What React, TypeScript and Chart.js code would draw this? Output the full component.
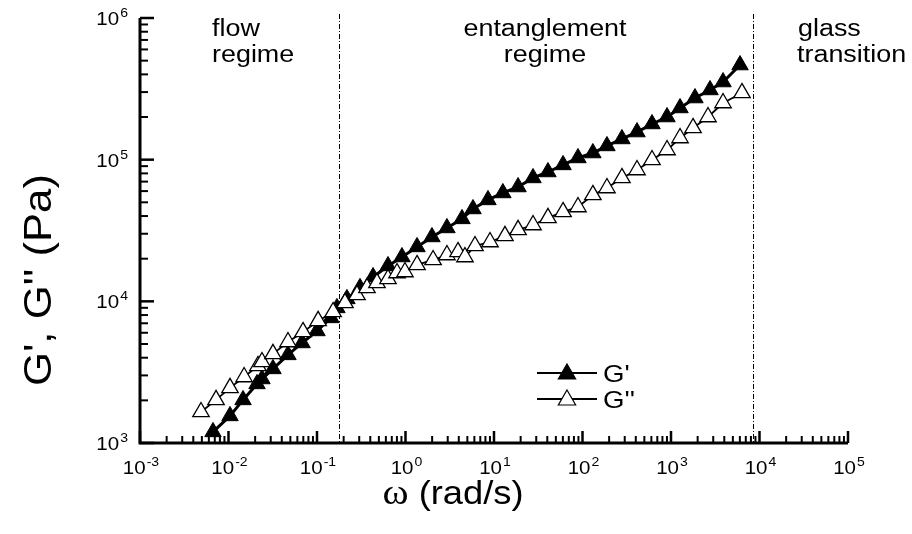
import React, { useEffect, useRef } from 'react';
import { Chart, registerables } from 'chart.js';

Chart.register(...registerables);

// ---------------- data ----------------
const gPrimeOmega = [0.00668, 0.0104, 0.0146, 0.021, 0.0239, 0.0318, 0.047, 0.0678, 0.1, 0.144, 0.168, 0.218, 0.306, 0.43, 0.634, 0.912, 1.35, 1.99, 2.94, 4.35, 5.79, 8.55, 12.6, 18.7, 27.6, 40.7, 60.3, 88.9, 131, 189, 279, 413, 610, 902, 1265, 1866, 2760, 3873, 6026];
const gPrime = [1197, 1553, 2014, 2612, 2831, 3334, 4188, 5082, 6180, 7638, 8985, 10400, 12450, 14860, 17780, 20560, 24210, 28460, 32960, 38190, 44870, 51990, 58210, 64120, 74300, 81850, 91830, 102800, 111400, 125000, 140000, 156700, 178600, 200000, 231700, 272300, 310500, 353200, 465600];

const gDoublePrimeOmega = [0.00489, 0.00723, 0.0104, 0.015, 0.0215, 0.0239, 0.0318, 0.047, 0.0695, 0.103, 0.152, 0.207, 0.283, 0.367, 0.476, 0.634, 0.802, 0.986, 1.35, 2.05, 2.94, 3.92, 4.7, 6.1, 9.01, 13.3, 18.7, 27.6, 40.7, 60.3, 88.9, 131, 189, 279, 413, 610, 902, 1265, 1774, 2618, 3873, 6339];
const gDoublePrime = [1656, 2014, 2449, 2924, 3499, 3733, 4256, 5164, 6081, 7278, 8414, 9750, 11090, 12450, 13490, 14390, 15850, 16110, 18070, 19590, 21240, 22320, 20560, 24600, 26240, 28960, 31920, 34590, 38810, 42760, 46340, 56360, 63100, 74300, 84550, 99540, 117000, 142200, 167500, 200000, 251200, 295800];

const seriesNames = ["G'", "G''"];
const xTickExponents = ['-3', '-2', '-1', '0', '1', '2', '3', '4', '5'];
const yTickExponents = ['3', '4', '5', '6'];
const regimeBoundaries = [0.177, 8450];
const regimeLabels = [['flow', 'regime'], ['entanglement', 'regime'], ['glass', 'transition']];
const xTitleSymbol = 'ω';
const xTitleText = ' (rad/s)';
const yTitle = "G', G'' (Pa)";

const X_MIN = 1e-3, X_MAX = 1e5, Y_MIN = 1e3, Y_MAX = 1e6;

const SANS = '"Liberation Sans", Arial, sans-serif';
const SERIF = '"Liberation Serif", "Times New Roman", serif';

function stretchedText(ctx: CanvasRenderingContext2D, text: string, x: number, y: number, font: string, sx: number, align: string) {
  ctx.save();
  ctx.font = font;
  const w = ctx.measureText(text).width * sx;
  let x0 = x;
  if (align === 'center') x0 = x - w / 2;
  else if (align === 'right') x0 = x - w;
  ctx.translate(x0, y);
  ctx.scale(sx, 1);
  ctx.textAlign = 'left';
  ctx.textBaseline = 'alphabetic';
  ctx.fillText(text, 0, 0);
  ctx.restore();
  return w;
}

function measure(ctx: CanvasRenderingContext2D, text: string, font: string, sx: number) {
  ctx.save();
  ctx.font = font;
  const w = ctx.measureText(text).width * sx;
  ctx.restore();
  return w;
}

function powLabel(ctx: CanvasRenderingContext2D, exp: string, x: number, y: number, align: string) {
  const baseFont = `19px ${SANS}`;
  const expFont = `13px ${SANS}`;
  const sx = 1.08;
  const bw = measure(ctx, '10', baseFont, sx);
  const ew = measure(ctx, exp, expFont, sx);
  const total = bw + ew + 1;
  let x0 = x;
  if (align === 'center') x0 = x - total / 2;
  else if (align === 'right') x0 = x - total;
  stretchedText(ctx, '10', x0, y, baseFont, sx, 'left');
  stretchedText(ctx, exp, x0 + bw + 1, y - 8, expFont, sx, 'left');
}

function drawTriangle(ctx: CanvasRenderingContext2D, x: number, y: number, r: number, fill: string) {
  ctx.save();
  ctx.beginPath();
  ctx.moveTo(x, y - r);
  ctx.lineTo(x + r * Math.sin(2 * Math.PI / 3), y - r * Math.cos(2 * Math.PI / 3));
  ctx.lineTo(x + r * Math.sin(4 * Math.PI / 3), y - r * Math.cos(4 * Math.PI / 3));
  ctx.closePath();
  ctx.fillStyle = fill;
  ctx.fill();
  ctx.lineWidth = 1.2;
  ctx.strokeStyle = '#000';
  ctx.stroke();
  ctx.restore();
}

const decorPlugin = {
  id: 'decor',
  beforeDatasetsDraw(chart: any) {
    const { ctx, chartArea } = chart;
    const xs = chart.scales.x;
    ctx.save();
    ctx.strokeStyle = '#000';
    ctx.lineWidth = 1;
    ctx.setLineDash([5, 2, 1, 2]);
    regimeBoundaries.forEach((b) => {
      const px = Math.round(xs.getPixelForValue(b)) + 0.5;
      ctx.beginPath();
      ctx.moveTo(px, chartArea.top - 4);
      ctx.lineTo(px, chartArea.bottom);
      ctx.stroke();
    });
    ctx.restore();
  },
  afterDraw(chart: any) {
    const { ctx, chartArea } = chart;
    const xs = chart.scales.x;
    const ys = chart.scales.y;
    const { left, right, top, bottom } = chartArea;
    ctx.save();
    ctx.strokeStyle = '#000';
    ctx.fillStyle = '#000';
    // axis lines
    ctx.lineWidth = 3;
    ctx.beginPath();
    ctx.moveTo(left, top);
    ctx.lineTo(left, bottom);
    ctx.lineTo(right, bottom);
    ctx.stroke();
    // x ticks
    for (let d = -3; d <= 5; d++) {
      const p = xs.getPixelForValue(Math.pow(10, d));
      ctx.lineWidth = 2.5;
      ctx.beginPath();
      ctx.moveTo(p, bottom);
      ctx.lineTo(p, bottom - 12);
      ctx.stroke();
      if (d < 5) {
        for (let k = 2; k <= 9; k++) {
          const pm = xs.getPixelForValue(k * Math.pow(10, d));
          ctx.lineWidth = 2;
          ctx.beginPath();
          ctx.moveTo(pm, bottom);
          ctx.lineTo(pm, bottom - 7);
          ctx.stroke();
        }
      }
    }
    // y ticks
    for (let d = 3; d <= 6; d++) {
      const p = ys.getPixelForValue(Math.pow(10, d));
      ctx.lineWidth = 2.5;
      ctx.beginPath();
      ctx.moveTo(left, p);
      ctx.lineTo(left + 14, p);
      ctx.stroke();
      if (d < 6) {
        for (let k = 2; k <= 9; k++) {
          const pm = ys.getPixelForValue(k * Math.pow(10, d));
          ctx.lineWidth = 2;
          ctx.beginPath();
          ctx.moveTo(left, pm);
          ctx.lineTo(left + 8, pm);
          ctx.stroke();
        }
      }
    }
    // tick labels
    xTickExponents.forEach((e) => {
      const p = xs.getPixelForValue(Math.pow(10, Number(e)));
      powLabel(ctx, e, p + 1, bottom + 31, 'center');
    });
    yTickExponents.forEach((e) => {
      const p = ys.getPixelForValue(Math.pow(10, Number(e)));
      powLabel(ctx, e, left - 12, p + 7, 'right');
    });
    // regime labels
    const rf = `23px ${SANS}`;
    const rsx = 1.17;
    stretchedText(ctx, regimeLabels[0][0], 212, 36, rf, rsx, 'left');
    stretchedText(ctx, regimeLabels[0][1], 212, 62, rf, rsx, 'left');
    stretchedText(ctx, regimeLabels[1][0], 545, 36, rf, rsx, 'center');
    stretchedText(ctx, regimeLabels[1][1], 545, 62, rf, rsx, 'center');
    stretchedText(ctx, regimeLabels[2][0], 798, 36, rf, rsx, 'left');
    stretchedText(ctx, regimeLabels[2][1], 797, 62, rf, rsx, 'left');
    // x title
    const tf = `33px ${SANS}`;
    const sf = `36px ${SERIF}`;
    const tsx = 1.1;
    const w1 = measure(ctx, xTitleSymbol, sf, tsx);
    const w2 = measure(ctx, xTitleText, tf, tsx);
    const x0 = 453 - (w1 + w2) / 2;
    stretchedText(ctx, xTitleSymbol, x0, 504, sf, tsx, 'left');
    stretchedText(ctx, xTitleText, x0 + w1, 504, tf, tsx, 'left');
    // y title
    ctx.save();
    ctx.translate(51, 280);
    ctx.rotate(-Math.PI / 2);
    ctx.scale(1.12, 1.0);
    ctx.font = `39px ${SANS}`;
    ctx.textAlign = 'center';
    ctx.textBaseline = 'alphabetic';
    ctx.fillText(yTitle, 0, 0);
    ctx.restore();
    // legend
    const legendY = [373, 399];
    const fills = ['#000', '#fff'];
    legendY.forEach((ly, i) => {
      ctx.lineWidth = 2;
      ctx.beginPath();
      ctx.moveTo(537, ly);
      ctx.lineTo(597, ly);
      ctx.stroke();
      drawTriangle(ctx, 567, ly + 1, 10, fills[i]);
      ctx.fillStyle = '#000';
      stretchedText(ctx, seriesNames[i], 603, ly + 9, `24px ${SANS}`, 1.15, 'left');
    });
    ctx.restore();
  },
};

export default function App() {
  const ref = useRef<HTMLCanvasElement | null>(null);
  useEffect(() => {
    if (!ref.current) return;
    const chart = new Chart(ref.current, {
      type: 'line',
      data: {
        datasets: [
          {
            label: seriesNames[0],
            data: gPrimeOmega.map((w, i) => ({ x: w, y: gPrime[i] })),
            borderColor: '#000',
            backgroundColor: '#000',
            borderWidth: 3,
            pointStyle: 'triangle',
            pointRadius: 9.5,
            pointBackgroundColor: '#000',
            pointBorderColor: '#000',
            pointBorderWidth: 1,
            order: 2,
          },
          {
            label: seriesNames[1],
            data: gDoublePrimeOmega.map((w, i) => ({ x: w, y: gDoublePrime[i] })),
            borderColor: '#000',
            backgroundColor: '#fff',
            borderWidth: 1.8,
            pointStyle: 'triangle',
            pointRadius: 9.5,
            pointBackgroundColor: '#fff',
            pointBorderColor: '#000',
            pointBorderWidth: 1.3,
            order: 1,
          },
        ],
      } as any,
      options: {
        animation: false,
        responsive: true,
        maintainAspectRatio: false,
        layout: { padding: { left: 140, right: 64, top: 18, bottom: 91 } },
        elements: { line: { tension: 0 } },
        scales: {
          x: { type: 'logarithmic', min: X_MIN, max: X_MAX, display: false },
          y: { type: 'logarithmic', min: Y_MIN, max: Y_MAX, display: false },
        },
        plugins: { legend: { display: false }, tooltip: { enabled: false } },
      } as any,
      plugins: [decorPlugin],
    });
    return () => chart.destroy();
  }, []);
  return (
    <div style={{ position: 'fixed', left: 0, top: 0, width: 912, height: 534, background: '#fff' }}>
      <canvas ref={ref} />
    </div>
  );
}
